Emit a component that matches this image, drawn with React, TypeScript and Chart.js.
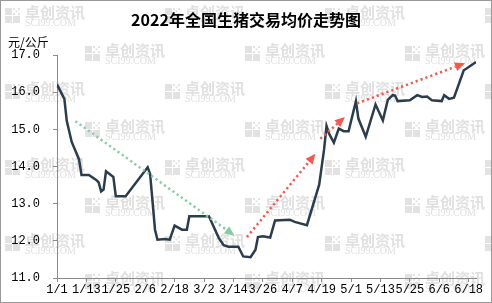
import React, { useEffect, useRef } from "react";
import { Chart, registerables } from "chart.js";

Chart.register(...registerables);

// ---- data ----
const dates = [
  "1/1", "1/4", "1/5", "1/7", "1/10", "1/11", "1/14", "1/17", "1/18", "1/19",
  "1/20", "1/21", "1/24", "1/25", "1/29", "2/7", "2/8", "2/10", "2/11", "2/14",
  "2/16", "2/18", "2/21", "2/23", "2/24", "3/4", "3/8", "3/10", "3/12", "3/16",
  "3/18", "3/21", "3/23", "3/24", "3/26", "3/29", "3/31", "4/6", "4/8", "4/13",
  "4/18", "4/20", "4/21", "4/22", "4/24", "4/26", "4/28", "4/30", "5/3", "5/4",
  "5/7", "5/11", "5/14", "5/16", "5/18", "5/19", "5/20", "5/25", "5/28", "5/30",
  "6/1", "6/3", "6/7", "6/8", "6/10", "6/12", "6/16", "6/17", "6/21",
];
const prices = [
  16.21, 15.82, 15.22, 14.66, 14.19, 13.77, 13.77, 13.64, 13.57, 13.33,
  13.38, 13.87, 13.72, 13.2, 13.2, 13.98, 13.8, 12.3, 12.03, 12.05,
  12.03, 12.41, 12.3, 12.3, 12.66, 12.66, 12.08, 11.88, 11.84, 11.84,
  11.58, 11.56, 11.76, 12.1, 12.12, 12.09, 12.55, 12.57, 12.51, 12.42,
  13.51, 14.46, 15.09, 14.89, 14.64, 15.02, 14.95, 14.95, 15.76, 15.29,
  14.8, 15.67, 15.24, 15.79, 15.92, 15.91, 15.76, 15.78, 15.92, 15.87,
  15.88, 15.78, 15.76, 15.92, 15.82, 15.85, 16.59, 16.63, 16.81,
];
const firstDate = "1/1";
const lastDate = "6/21";
const xTickStepDays = 12;
const yMin = 11;
const yMax = 17;
const yStep = 1;

// trend arrows (in data units: [date, price])
const greenTrendFrom: [string, number] = ["1/8", 15.22];
const greenTrendTo: [string, number] = ["3/14", 12.14];
const redTrendFroms: [string, number][] = [["3/19", 12.1], ["4/18", 14.75], ["5/3", 15.7]];
const redTrendTos: [string, number][] = [["4/16", 14.34], ["4/28", 15.33], ["6/16", 16.78]];

const title = "2022年全国生猪交易均价走势图";
const unitLabel = "元/公斤";
const watermarkText = "卓创资讯";
const watermarkSub = "SCI99.COM";

const monthStarts = [0, 31, 59, 90, 120, 151, 181, 212];
function dayIndex(s: string): number {
  const [m, d] = s.split("/").map(Number);
  return monthStarts[m - 1] + d - 1;
}
function dayLabel(i: number): string {
  let m = 0;
  while (m + 1 < monthStarts.length && monthStarts[m + 1] <= i) m++;
  return `${m + 1}/${i - monthStarts[m] + 1}`;
}

const CJK = '"Noto Sans CJK SC", sans-serif';
const TICK_FONT = '"Liberation Mono", monospace';

function drawWatermark(ctx: CanvasRenderingContext2D, x: number, y: number) {
  ctx.save();
  ctx.fillStyle = "#e2e2e2";
  ctx.fillRect(x, y + 1, 7, 7);
  ctx.fillRect(x, y + 9, 7, 7);
  ctx.fillRect(x + 8, y + 9, 7, 7);
  for (let i = 0; i < 3; i++)
    for (let j = 0; j < 3; j++)
      if ((i + j) % 2 === 0) ctx.fillRect(x + 8 + i * 2.5, y + 1 + j * 2.5, 2, 2);
  ctx.fillStyle = "#e0e0e0";
  ctx.textBaseline = "top";
  ctx.textAlign = "left";
  ctx.font = `bold 15px ${CJK}`;
  ctx.fillText(watermarkText, x + 20, y - 2);
  ctx.font = '10px "Liberation Serif", serif';
  ctx.fillText(watermarkSub, x + 20, y + 11);
  ctx.restore();
}

const backgroundPlugin = {
  id: "bg",
  beforeDraw(chart: any) {
    const ctx = chart.ctx as CanvasRenderingContext2D;
    ctx.save();
    ctx.fillStyle = "#ffffff";
    ctx.fillRect(0, 0, chart.width, chart.height);
    ctx.restore();
    for (let r = 0; r < 8; r++) {
      const y = 7 + r * 38;
      const x0 = r % 2 === 0 ? 5 : 85;
      for (let x = x0; x < chart.width; x += 160) drawWatermark(ctx, x, y);
    }
  },
  afterDraw(chart: any) {
    const ctx = chart.ctx as CanvasRenderingContext2D;
    const xs = chart.scales.x;
    const ys = chart.scales.y;
    const arrow = (from: [string, number], to: [string, number], color: string) => {
      const x1 = xs.getPixelForValue(dayIndex(from[0]) + 0.5);
      const y1 = ys.getPixelForValue(from[1]);
      const x2 = xs.getPixelForValue(dayIndex(to[0]) + 0.5);
      const y2 = ys.getPixelForValue(to[1]);
      const ang = Math.atan2(y2 - y1, x2 - x1);
      const headLen = 10;
      const bx = x2 - headLen * Math.cos(ang);
      const by = y2 - headLen * Math.sin(ang);
      ctx.save();
      ctx.strokeStyle = color;
      ctx.fillStyle = color;
      ctx.lineWidth = 2.5;
      ctx.setLineDash([2.2, 3]);
      ctx.beginPath();
      ctx.moveTo(x1, y1);
      ctx.lineTo(bx, by);
      ctx.stroke();
      ctx.setLineDash([]);
      ctx.beginPath();
      ctx.moveTo(x2, y2);
      ctx.lineTo(bx + 4.5 * Math.sin(ang), by - 4.5 * Math.cos(ang));
      ctx.lineTo(bx - 4.5 * Math.sin(ang), by + 4.5 * Math.cos(ang));
      ctx.closePath();
      ctx.fill();
      ctx.restore();
    };
    arrow(greenTrendFrom, greenTrendTo, "#86cca9");
    for (let i = 0; i < redTrendFroms.length; i++) arrow(redTrendFroms[i], redTrendTos[i], "#f4594b");

    ctx.save();
    ctx.fillStyle = "#000";
    ctx.textBaseline = "middle";
    ctx.textAlign = "center";
    ctx.font = `bold 16px ${CJK}`;
    ctx.fillText(title, 246, 20);
    ctx.textAlign = "left";
    ctx.font = `12px ${CJK}`;
    ctx.fillText(unitLabel, 8, 42);
    ctx.strokeStyle = "#999";
    ctx.lineWidth = 1;
    ctx.strokeRect(0.5, 0.5, chart.width - 1, chart.height - 1);
    ctx.restore();
  },
};

export default function App() {
  const ref = useRef<HTMLCanvasElement | null>(null);
  useEffect(() => {
    if (!ref.current) return;
    const points = dates.map((d, i) => ({ x: dayIndex(d), y: prices[i] }));
    const chart = new Chart(ref.current, {
      type: "line",
      data: {
        datasets: [
          {
            data: points,
            borderColor: "#2b3c4d",
            borderWidth: 2.5,
            pointRadius: 0,
            tension: 0,
            fill: false,
          },
        ],
      },
      options: {
        animation: false,
        responsive: false,
        devicePixelRatio: 1,
        layout: { padding: { top: 55, right: 16, left: 0, bottom: 0 } },
        plugins: { legend: { display: false }, tooltip: { enabled: false }, title: { display: false } },
        scales: {
          x: {
            type: "linear",
            min: dayIndex(firstDate),
            max: dayIndex(lastDate),
            afterFit: (s: any) => {
              s.height = 25;
            },
            grid: { drawOnChartArea: false, drawTicks: true, tickLength: 4, color: "#8a8a8a" },
            border: { color: "#8a8a8a", width: 1 },
            ticks: {
              stepSize: xTickStepDays,
              includeBounds: false,
              autoSkip: false,
              maxRotation: 0,
              padding: 1,
              color: "#000",
              font: { family: TICK_FONT, size: 12 },
              callback: (v: any) => dayLabel(Number(v)),
            },
          },
          y: {
            min: yMin,
            max: yMax,
            afterFit: (s: any) => {
              s.width = 57;
            },
            grid: { drawOnChartArea: false, drawTicks: true, tickLength: 4, color: "#8a8a8a" },
            border: { color: "#8a8a8a", width: 1 },
            ticks: {
              stepSize: yStep,
              padding: 13,
              color: "#000",
              font: { family: TICK_FONT, size: 12 },
              callback: (v: any) => Number(v).toFixed(1),
            },
          },
        },
      },
      plugins: [backgroundPlugin],
    });
    return () => chart.destroy();
  }, []);
  return (
    <div style={{ position: "fixed", left: 0, top: 0, width: 492, height: 303 }}>
      <canvas ref={ref} width={492} height={303} style={{ width: 492, height: 303, display: "block" }} />
    </div>
  );
}
